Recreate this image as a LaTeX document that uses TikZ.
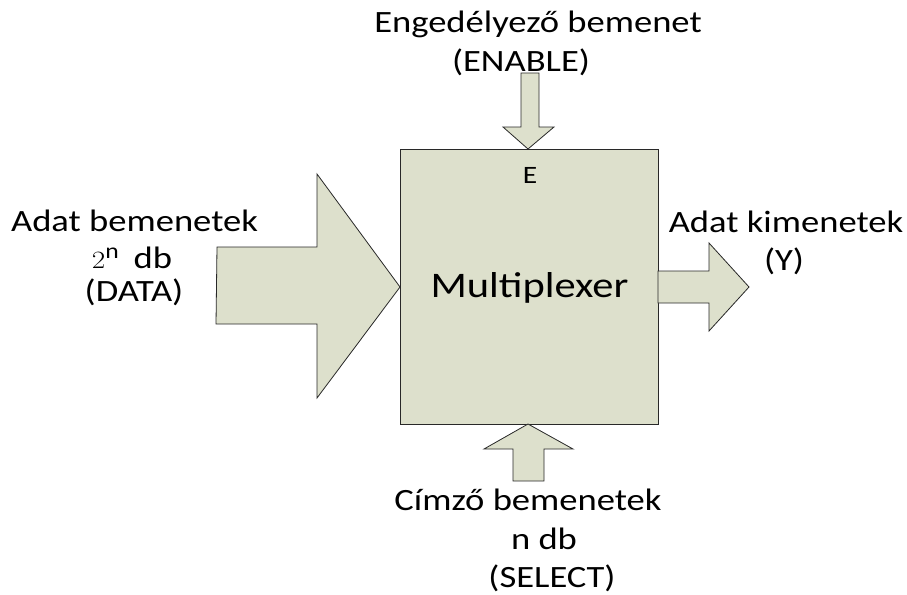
\documentclass[tikz,border=0pt]{standalone}
\usepackage{fontspec}
\setmainfont{Carlito}
\definecolor{boxfill}{RGB}{221,224,204}
\definecolor{edge}{RGB}{40,40,40}
\newcommand{\hstr}[1]{\scalebox{1.18}[1]{#1}}
\tikzset{
  shape fill/.style={fill=boxfill, draw=edge, line width=0.8pt, line join=miter},
  lbl/.style={font=\fontsize{31}{38}\selectfont, inner sep=0pt, anchor=base, text=black},
}
\begin{document}
\begin{tikzpicture}[x=1pt,y=-1pt]
\useasboundingbox (0,0) rectangle (907,594);
% main box
\node[shape fill, minimum width=258pt, minimum height=275pt, inner sep=0pt, anchor=north west] (mux) at (400,149) {};
\node[lbl, font=\fontsize{36}{40}\selectfont] (mname) at (529.5,297) {\hstr{Multiplexer}};
\node[lbl, font=\fontsize{25}{30}\selectfont] (elbl) at (530,183) {\hstr{E}};
% data arrow
\draw[shape fill] (217,247) -- (317,247) -- (317,174) -- (400,287) -- (317,398) -- (317,324) -- (216,324) -- cycle;
% output arrow
\draw[shape fill] (658,271) -- (709,271) -- (709,243) -- (749,287) -- (709,331) -- (709,303) -- (658,303) -- cycle;
% enable arrow
\draw[shape fill] (521,73) -- (539,73) -- (539,127) -- (554,127) -- (528,149) -- (503,127) -- (521,127) -- cycle;
% select arrow
\draw[shape fill] (528,424) -- (573,449) -- (544,449) -- (544,481) -- (513,481) -- (513,449) -- (484,449) -- cycle;
% labels
\node[lbl] (en1) at (538,33) {\hstr{Engedélyező bemenet}};
\node[lbl] (en2) at (521,71) {\hstr{(ENABLE)}};
\node[lbl] (d1) at (134.5,231) {\hstr{Adat bemenetek}};
\node[lbl] (d2) at (132,268) {\hstr{$2^{\mathrm{n}}$\, db}};
\node[lbl] (d3) at (134,301) {\hstr{(DATA)}};
\node[lbl] (y1) at (786,232) {\hstr{Adat kimenetek}};
\node[lbl] (y2) at (784,270) {\hstr{(Y)}};
\node[lbl] (s1) at (528,510) {\hstr{Címző bemenetek}};
\node[lbl] (s2) at (544,549) {\hstr{n db}};
\node[lbl] (s3) at (552,587) {\hstr{(SELECT)}};
\end{tikzpicture}
\end{document}
